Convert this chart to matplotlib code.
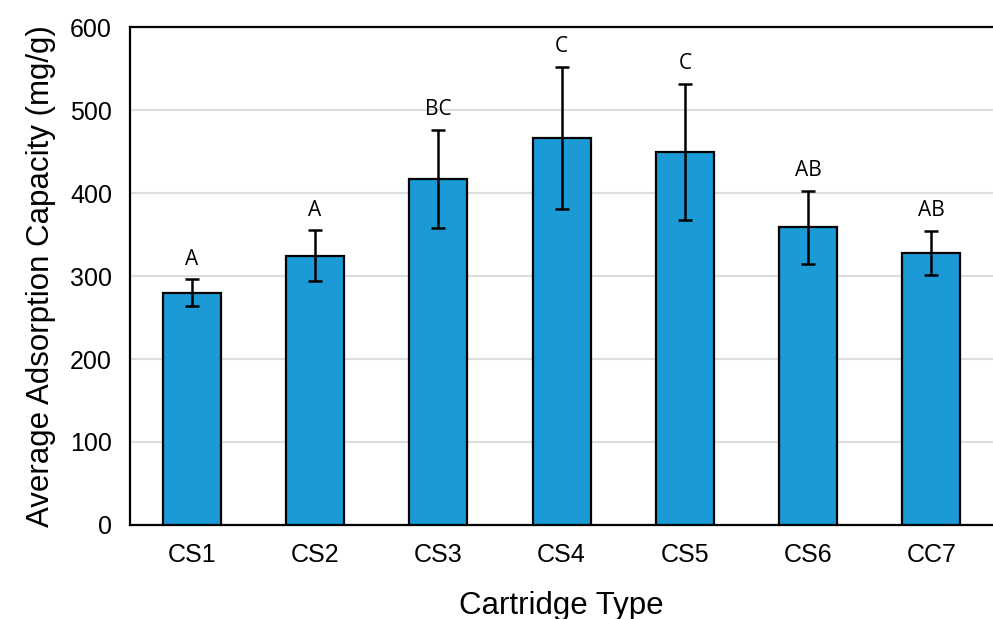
import matplotlib
matplotlib.use("Agg")
import matplotlib.pyplot as plt
import numpy as np

plt.rcParams["font.family"] = ["Liberation Sans", "DejaVu Sans"]

# data
cartridges = ["CS1", "CS2", "CS3", "CS4", "CS5", "CS6", "CC7"]
capacity = [280, 324.5, 417, 466.5, 450, 359, 328]
errors = [16, 30.5, 59, 86, 82, 44, 26.5]
groups = ["A", "A", "BC", "C", "C", "AB", "AB"]

fig = plt.figure(figsize=(9.93, 6.19), dpi=100)
ax = fig.add_axes([0.131, 0.152, 0.869, 0.804])

x = np.arange(len(cartridges))
ax.bar(x, capacity, width=0.47, color="#1C9AD6", edgecolor="black",
       linewidth=1.6, zorder=3)
ax.errorbar(x, capacity, yerr=errors, fmt="none", ecolor="black",
            elinewidth=1.8, capsize=5, capthick=1.8, zorder=4)

for xi, v, e, g in zip(x, capacity, errors, groups):
    ax.annotate(g, (xi, v + e), xytext=(0, 7), textcoords="offset points",
                ha="center", va="bottom", fontsize=15,
                family=["Open Sans", "DejaVu Sans"])

ax.set_xlim(-0.5, len(cartridges) - 0.5)
ax.set_ylim(0, 600)
ax.set_yticks(range(0, 601, 100))
ax.set_xticks(x)
ax.set_xticklabels(cartridges)
ax.tick_params(axis="both", length=0, labelsize=18, pad=13)
ax.yaxis.grid(True, color="#DDDDDD", linewidth=1.5, zorder=0)
ax.set_axisbelow(True)

for side in ["left", "bottom", "top"]:
    ax.spines[side].set_linewidth(1.6)
    ax.spines[side].set_color("black")
ax.spines["right"].set_visible(False)

ax.set_xlabel("Cartridge Type", fontsize=22.5, labelpad=17)
ax.set_ylabel("Average Adsorption Capacity (mg/g)", fontsize=22.5, labelpad=10)

fig.savefig("out.png", dpi=100)
